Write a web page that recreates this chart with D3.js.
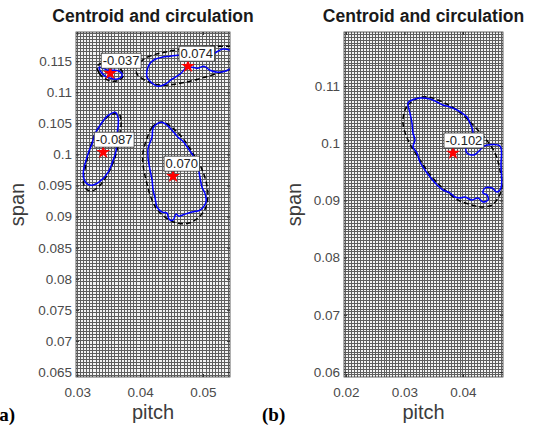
<!DOCTYPE html>
<html>
<head>
<meta charset="utf-8">
<script src="https://cdn.jsdelivr.net/npm/d3@7"></script>
<style>
body { margin: 0; background: #fff; }
svg { display: block; font-family: "Liberation Sans", Arial, sans-serif; }
</style>
</head>
<body>
<div class="chart"></div>
<script>
var svgWidth = 535;
var svgHeight = 430;

// tick values
var aXTicks = [0.03, 0.04, 0.05];
var aYTicks = [0.065, 0.07, 0.075, 0.08, 0.085, 0.09, 0.095, 0.1, 0.105, 0.11, 0.115];
var bXTicks = [0.02, 0.03, 0.04];
var bYTicks = [0.06, 0.07, 0.08, 0.09, 0.1, 0.11];

// axis limits
var aXLim = [0.0298, 0.0543];
var aYLim = [0.0642, 0.1197];
var bXLim = [0.01966, 0.04684];
var bYLim = [0.05913, 0.11944];

// spacing of the mesh grid (pitch / span)
var meshStep = 0.0005;

// (a) centroids and circulation
var aCentroids = [[0.03524, 0.11307], [0.04762, 0.1142], [0.03413, 0.10037], [0.04524, 0.09651]];
var aCirculation = [-0.037, 0.074, -0.087, 0.070];

// (a) vortex contours (closed)
var aContours = [
    [[0.03349, 0.11404], [0.03381, 0.11323], [0.03444, 0.11259], [0.03524, 0.11227], [0.03619, 0.11211],
     [0.03698, 0.11243], [0.03714, 0.11291], [0.03667, 0.11339], [0.03587, 0.11355], [0.03492, 0.11355],
     [0.03413, 0.11387]],
    [[0.03603, 0.1068], [0.03651, 0.10584], [0.03651, 0.10471], [0.03635, 0.10342], [0.03619, 0.10198],
     [0.03619, 0.10069], [0.03571, 0.09909], [0.03492, 0.09716], [0.03365, 0.09571], [0.03238, 0.09506],
     [0.03143, 0.09539], [0.03095, 0.09683], [0.03127, 0.0986], [0.03175, 0.10021], [0.03238, 0.10182],
     [0.03286, 0.10342], [0.03365, 0.10471], [0.03444, 0.10584], [0.03524, 0.10648]],
    [[0.04286, 0.10503], [0.04206, 0.10423], [0.0419, 0.10278], [0.04127, 0.10101], [0.04127, 0.09941],
     [0.04159, 0.09748], [0.0419, 0.09587], [0.04206, 0.09426], [0.04238, 0.09298], [0.0427, 0.09153],
     [0.04349, 0.09073], [0.04428, 0.09057], [0.0446, 0.0896], [0.04524, 0.08944], [0.04571, 0.0904],
     [0.04619, 0.09008], [0.04714, 0.0904], [0.04825, 0.09073], [0.04952, 0.09105], [0.05047, 0.09233],
     [0.05031, 0.09378], [0.04984, 0.09474], [0.04952, 0.09635], [0.0492, 0.09796], [0.04857, 0.09957],
     [0.04762, 0.10101], [0.04682, 0.10214], [0.04603, 0.10278], [0.04508, 0.10391], [0.04428, 0.10471],
     [0.04349, 0.10519]]
];

// (a) contour cut by the right edge
var aEdgeContour = [
    [0.05444, 0.11677], [0.05301, 0.11693], [0.05174, 0.11629], [0.04889, 0.11613], [0.04603, 0.11597],
    [0.04476, 0.1158], [0.04349, 0.11564], [0.04238, 0.11532], [0.04159, 0.11468], [0.04111, 0.11355],
    [0.04111, 0.11243], [0.04174, 0.11162], [0.04286, 0.11098], [0.04397, 0.1113], [0.04508, 0.11211],
    [0.04635, 0.11291], [0.0473, 0.11387], [0.04825, 0.11404], [0.0492, 0.11387], [0.05016, 0.1142],
    [0.05111, 0.11355], [0.05238, 0.11323], [0.05349, 0.11339], [0.05444, 0.11387]
];

// (a) fitted ellipses (closed)
var aEllipses = [
    [[0.03317, 0.1142], [0.03349, 0.11307], [0.03429, 0.11227], [0.03555, 0.11178], [0.03667, 0.11195],
     [0.0373, 0.11259], [0.03714, 0.11339], [0.03635, 0.11404], [0.03524, 0.11452], [0.03397, 0.11468]],
    [[0.03667, 0.10648], [0.03698, 0.10519], [0.03682, 0.10359], [0.03651, 0.1015], [0.03587, 0.09909],
     [0.03476, 0.09667], [0.03349, 0.0949], [0.03222, 0.0941], [0.03127, 0.09458], [0.03095, 0.09587],
     [0.03127, 0.0978], [0.03175, 0.09989], [0.03238, 0.10214], [0.03333, 0.10423], [0.03444, 0.10568],
     [0.03555, 0.10648]],
    [[0.04317, 0.10519], [0.0419, 0.10439], [0.04111, 0.10262], [0.04047, 0.10037], [0.04047, 0.09828],
     [0.04095, 0.09587], [0.04159, 0.09346], [0.04254, 0.09137], [0.04397, 0.08992], [0.04587, 0.08896],
     [0.04778, 0.08896], [0.04936, 0.08992], [0.05047, 0.09153], [0.05079, 0.09346], [0.05047, 0.09571],
     [0.04968, 0.09796], [0.04857, 0.09989], [0.04714, 0.10214], [0.04555, 0.10391], [0.04412, 0.10503]]
];

// (a) ellipse cut by the right edge
var aEdgeEllipse = [
    [0.05444, 0.11741], [0.0519, 0.11741], [0.04873, 0.11725], [0.04555, 0.11677], [0.04317, 0.11629],
    [0.04111, 0.11564], [0.04, 0.11484], [0.03936, 0.11387], [0.03952, 0.11291], [0.04047, 0.11211],
    [0.0419, 0.11146], [0.04349, 0.11114], [0.04555, 0.1113], [0.04794, 0.11178], [0.05031, 0.11243],
    [0.05238, 0.11307], [0.05444, 0.11371]
];

// (b) centroid and circulation
var bCentroids = [[0.03829, 0.09829]];
var bCirculation = [-0.102];

// (b) vortex contour
var bContours = [
    [[0.0306, 0.10703], [0.03128, 0.10755], [0.03265, 0.1079], [0.03436, 0.10773], [0.03556, 0.1072],
     [0.03658, 0.10668], [0.03778, 0.10633], [0.03897, 0.1058], [0.03983, 0.10528], [0.04068, 0.10458],
     [0.0412, 0.10353], [0.04171, 0.10196], [0.0412, 0.10056], [0.04051, 0.09916], [0.04068, 0.09829],
     [0.04188, 0.09794], [0.04291, 0.09881], [0.04359, 0.09951], [0.04632, 0.09951], [0.0465, 0.09619],
     [0.0465, 0.09217], [0.04581, 0.09147], [0.04496, 0.09217], [0.04376, 0.09217], [0.04342, 0.09129],
     [0.0441, 0.09094], [0.04427, 0.09007], [0.04342, 0.08972], [0.04256, 0.09042], [0.04154, 0.09007],
     [0.04034, 0.09059], [0.03949, 0.09042], [0.03863, 0.09059], [0.03778, 0.09129], [0.03658, 0.09182],
     [0.03556, 0.09269], [0.03385, 0.09479], [0.03265, 0.09671], [0.03214, 0.09829], [0.03145, 0.09934],
     [0.03179, 0.10056], [0.03145, 0.10178], [0.03128, 0.10353], [0.03094, 0.10528]]
];

// (b) fitted ellipse
var bEllipses = [
    [[0.03009, 0.1058], [0.0306, 0.10668], [0.03231, 0.1079], [0.03402, 0.10808], [0.03573, 0.10755],
     [0.03812, 0.10633], [0.04034, 0.10458], [0.04205, 0.10283], [0.04376, 0.10091], [0.04547, 0.09829],
     [0.04632, 0.09531], [0.04667, 0.09234], [0.04598, 0.09042], [0.04496, 0.0892], [0.04325, 0.08885],
     [0.04154, 0.0892], [0.03915, 0.09007], [0.03692, 0.09182], [0.0347, 0.09409], [0.03265, 0.09706],
     [0.0306, 0.10056], [0.02974, 0.10353]]
];

var svg = d3.select(".chart")
    .append("svg")
    .attr("width", svgWidth)
    .attr("height", svgHeight);

var panels = [
    { id: "a", tag: "(a)", tagX: -7, left: 76, right: 230, ylabelX: 24,
      xLim: aXLim, yLim: aYLim, xTicks: aXTicks, yTicks: aYTicks,
      centroids: aCentroids, circulation: aCirculation,
      contours: aContours, ellipses: aEllipses,
      edgeContours: [aEdgeContour], edgeEllipses: [aEdgeEllipse] },
    { id: "b", tag: "(b)", tagX: 262, left: 344, right: 503, ylabelX: 301,
      xLim: bXLim, yLim: bYLim, xTicks: bXTicks, yTicks: bYTicks,
      centroids: bCentroids, circulation: bCirculation,
      contours: bContours, ellipses: bEllipses,
      edgeContours: [], edgeEllipses: [] }
];

var top_ = 32, bottom_ = 377;

// MATLAB style numbers: plain hyphen for the minus sign
var fmt = function (v) { return d3.format(".3f")(v).replace("\u2212", "-"); };

panels.forEach(function (p) {
    var g = svg.append("g");
    var x = d3.scaleLinear().domain(p.xLim).range([p.left, p.right]);
    var y = d3.scaleLinear().domain(p.yLim).range([bottom_, top_]);

    g.append("clipPath")
        .attr("id", "clip-" + p.id)
        .append("rect")
        .attr("x", p.left)
        .attr("y", top_)
        .attr("width", p.right - p.left)
        .attr("height", bottom_ - top_);

    var plot = g.append("g").attr("clip-path", "url(#clip-" + p.id + ")");

    // mesh grid
    var gx = d3.range(Math.ceil(p.xLim[0] / meshStep), Math.floor(p.xLim[1] / meshStep) + 1)
        .map(function (k) { return k * meshStep; });
    var gy = d3.range(Math.ceil(p.yLim[0] / meshStep), Math.floor(p.yLim[1] / meshStep) + 1)
        .map(function (k) { return k * meshStep; });

    plot.append("rect")
        .attr("x", p.left).attr("y", top_)
        .attr("width", p.right - p.left).attr("height", bottom_ - top_)
        .attr("fill", "#f4f4f4");

    plot.selectAll(".vmesh")
        .data(gx)
        .enter()
        .append("line")
        .attr("x1", function (d) { return x(d); })
        .attr("x2", function (d) { return x(d); })
        .attr("y1", top_)
        .attr("y2", bottom_)
        .attr("stroke", "#5e5e5e")
        .attr("shape-rendering", "crispEdges");

    plot.selectAll(".hmesh")
        .data(gy)
        .enter()
        .append("line")
        .attr("y1", function (d) { return y(d); })
        .attr("y2", function (d) { return y(d); })
        .attr("x1", p.left)
        .attr("x2", p.right)
        .attr("stroke", "#5e5e5e")
        .attr("shape-rendering", "crispEdges");

    var closed = d3.line()
        .x(function (d) { return x(d[0]); })
        .y(function (d) { return y(d[1]); })
        .curve(d3.curveCatmullRomClosed.alpha(0.5));
    var open = d3.line()
        .x(function (d) { return x(d[0]); })
        .y(function (d) { return y(d[1]); })
        .curve(d3.curveCatmullRom.alpha(0.5));

    // fitted ellipses (dashed)
    plot.selectAll(".ellipse")
        .data(p.ellipses)
        .enter()
        .append("path")
        .attr("d", closed)
        .attr("fill", "none")
        .attr("stroke", "#000")
        .attr("stroke-width", 1.5)
        .attr("stroke-dasharray", "5,3");
    plot.selectAll(".edge-ellipse")
        .data(p.edgeEllipses)
        .enter()
        .append("path")
        .attr("d", open)
        .attr("fill", "none")
        .attr("stroke", "#000")
        .attr("stroke-width", 1.5)
        .attr("stroke-dasharray", "5,3");

    // vortex contours
    plot.selectAll(".contour")
        .data(p.contours)
        .enter()
        .append("path")
        .attr("d", closed)
        .attr("fill", "none")
        .attr("stroke", "#0000ff")
        .attr("stroke-width", 1.5);
    plot.selectAll(".edge-contour")
        .data(p.edgeContours)
        .enter()
        .append("path")
        .attr("d", open)
        .attr("fill", "none")
        .attr("stroke", "#0000ff")
        .attr("stroke-width", 1.5);

    // centroids
    plot.selectAll(".centroid")
        .data(p.centroids)
        .enter()
        .append("path")
        .attr("d", d3.symbol().type(d3.symbolStar).size(60))
        .attr("transform", function (d) { return `translate(${x(d[0])},${y(d[1])})`; })
        .attr("fill", "#ff0000");

    // axes box
    g.append("rect")
        .attr("x", p.left).attr("y", top_)
        .attr("width", p.right - p.left).attr("height", bottom_ - top_)
        .attr("fill", "none")
        .attr("stroke", "#3a3a3a")
        .attr("stroke-width", 0.8);

    // circulation labels
    var tips = g.selectAll(".tip")
        .data(p.centroids)
        .enter()
        .append("g")
        .attr("transform", function (d) { return `translate(${x(d[0]) - 9},${y(d[1]) - 5})`; });
    tips.each(function (d, i) {
        var t = d3.select(this);
        var box = t.append("rect");
        var txt = t.append("text")
            .attr("x", 1.5)
            .attr("y", -3)
            .attr("font-size", "13px")
            .attr("fill", "#222")
            .text(fmt(p.circulation[i]));
        var w = txt.node().getComputedTextLength();
        box.attr("x", 0).attr("y", -15)
            .attr("width", w + 3).attr("height", 15)
            .attr("fill", "#fff")
            .attr("stroke", "#333")
            .attr("stroke-width", 0.8);
    });

    // axes
    var xAxis = d3.axisBottom(x).tickValues(p.xTicks).tickFormat(d3.format("~g"))
        .tickSizeInner(-3).tickSizeOuter(0).tickPadding(10);
    var yAxis = d3.axisLeft(y).tickValues(p.yTicks).tickFormat(d3.format("~g"))
        .tickSizeInner(-3).tickSizeOuter(0).tickPadding(4);

    var xg = g.append("g").attr("transform", `translate(0,${bottom_})`).call(xAxis);
    var yg = g.append("g").attr("transform", `translate(${p.left},0)`).call(yAxis);
    g.append("g").attr("transform", `translate(0,${top_})`)
        .call(d3.axisTop(x).tickValues(p.xTicks).tickSizeInner(-3).tickSizeOuter(0).tickFormat(""));
    g.append("g").attr("transform", `translate(${p.right},0)`)
        .call(d3.axisRight(y).tickValues(p.yTicks).tickSizeInner(-3).tickSizeOuter(0).tickFormat(""));

    g.selectAll(".domain").remove();
    g.selectAll(".tick line").attr("stroke", "#333");
    xg.selectAll("text").attr("font-size", "13.5px").attr("fill", "#4a4a4a").attr("font-family", "Liberation Sans, Arial, sans-serif");
    yg.selectAll("text").attr("font-size", "13.5px").attr("fill", "#4a4a4a").attr("font-family", "Liberation Sans, Arial, sans-serif");

    // title
    g.append("text")
        .attr("x", (p.left + p.right) / 2)
        .attr("y", 22)
        .attr("text-anchor", "middle")
        .attr("font-size", "17.5px")
        .attr("font-weight", "bold")
        .attr("fill", "#1a1a1a")
        .text("Centroid and circulation");

    // axis titles
    g.append("text")
        .attr("transform", `translate(${(p.left + p.right) / 2},419)`)
        .attr("text-anchor", "middle")
        .attr("font-size", "20px")
        .attr("fill", "#3c3c3c")
        .text("pitch");
    g.append("text")
        .attr("transform", `translate(${p.ylabelX},${(top_ + bottom_) / 2})rotate(-90)`)
        .attr("text-anchor", "middle")
        .attr("font-size", "20px")
        .attr("fill", "#3c3c3c")
        .text("span");

    // panel tag (the reference crops the "(" of "(a)" at the left edge)
    g.append("text")
        .attr("x", p.tagX)
        .attr("y", 421)
        .attr("font-family", "Liberation Serif, Times New Roman, serif")
        .attr("font-weight", "bold")
        .attr("font-size", "19px")
        .attr("fill", "#000")
        .text(p.tag);
});
</script>
</body>
</html>
